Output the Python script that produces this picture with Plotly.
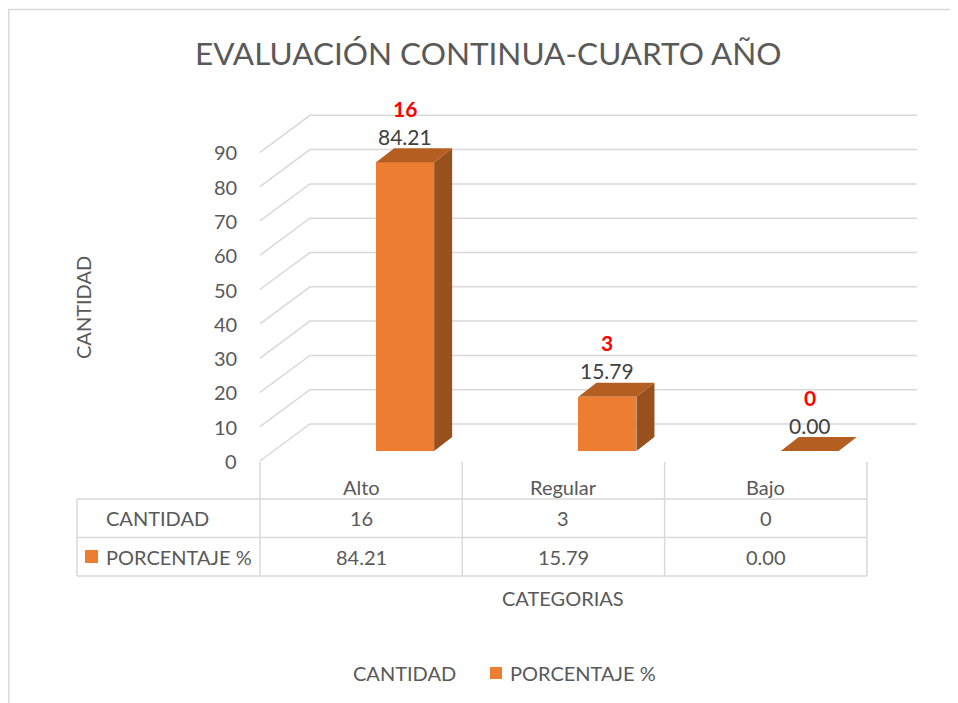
import plotly.graph_objects as go

# ---------------- data ----------------
categories = ["Alto", "Regular", "Bajo"]
cantidad = [16, 3, 0]
porcentaje = [84.21, 15.79, 0.00]
y_ticks = [0, 10, 20, 30, 40, 50, 60, 70, 80, 90]
series_names = ["CANTIDAD", "PORCENTAJE %"]
chart_title = "EVALUACIÓN CONTINUA-CUARTO AÑO"
y_title = "CANTIDAD"
x_title = "CATEGORIAS"

# ---------------- style / geometry ----------------
PAGE_W, PAGE_H = 958, 703
OFF = 8                      # default page body margin
W, H = PAGE_W - OFF, PAGE_H - OFF
FONT = "Lato"
TXT = "#595959"
GRID = "#D9D9D9"
ORANGE = "#ED7D31"
TOP_C = "#B55E22"
SIDE_C = "#98501C"

X0_PX, CAT_PX = 260.0, 202.3      # front-left floor edge (page px), px per category
Y0_PX, UNIT_PX = 461.0, 3.43      # front floor (page px), px per value unit

def dx(px):
    return px / CAT_PX

def dy(px):
    return px / UNIT_PX

WALL_DX, WALL_DY = dx(50), dy(37)
BAR_SHIFT, BAR_W = dx(44), dx(58)
BAR_BASE = dy(10)
BAR_DX, BAR_DY = dx(18), dy(14)

x_range = [-0.5 - dx(X0_PX - OFF), -0.5 + dx(PAGE_W - X0_PX)]
y_range = [-dy(PAGE_H - Y0_PX), dy(Y0_PX - OFF)]

def px_x(p):
    return (p - OFF) / W

def px_y(p):
    return 1 - (p - OFF) / H

fig = go.Figure()
shapes = []

# ---------- walls / gridlines (below the bars) ----------
n = len(categories)
for t in y_ticks:
    path = (f"M {-0.5},{t} L {-0.5 + WALL_DX},{t + WALL_DY} "
            f"L {n - 0.5 + WALL_DX},{t + WALL_DY}")
    shapes.append(dict(type="path", xref="x", yref="y", path=path, layer="below",
                       line=dict(color=GRID, width=1.5)))

# ---------- bars ----------
bx = [i + BAR_SHIFT for i in range(n)]
fig.add_trace(go.Bar(x=bx, y=porcentaje, base=[BAR_BASE] * n, width=[BAR_W] * n,
                     marker=dict(color=ORANGE, line=dict(width=0)),
                     name=series_names[1], showlegend=False))

tx, ty, sx, sy = [], [], [], []
for i, v in enumerate(porcentaje):
    xl = bx[i] - BAR_W / 2
    xr = bx[i] + BAR_W / 2
    top = BAR_BASE + v
    tx += [xl, xr, xr + BAR_DX, xl + BAR_DX, xl, None]
    ty += [top, top, top + BAR_DY, top + BAR_DY, top, None]
    if v > 0:
        sx += [xr, xr + BAR_DX, xr + BAR_DX, xr, xr, None]
        sy += [BAR_BASE, BAR_BASE + BAR_DY, top + BAR_DY, top, BAR_BASE, None]
fig.add_trace(go.Scatter(x=sx, y=sy, mode="lines", fill="toself", fillcolor=SIDE_C,
                         line=dict(width=0, color=SIDE_C), hoverinfo="skip", showlegend=False))
fig.add_trace(go.Scatter(x=tx, y=ty, mode="lines", fill="toself", fillcolor=TOP_C,
                         line=dict(width=0, color=TOP_C), hoverinfo="skip", showlegend=False))

ann = []

def text(x, y, s, size=20, color=TXT, xanchor="center", xref="paper", yref="paper", angle=0):
    ann.append(dict(x=x, y=y, xref=xref, yref=yref, text=s, showarrow=False,
                    xanchor=xanchor, yanchor="middle", textangle=angle,
                    font=dict(family=FONT, size=size, color=color)))

# data labels
for i in range(n):
    top = BAR_BASE + porcentaje[i]
    text(bx[i], top + dy(26), f"{porcentaje[i]:.2f}", 21, "#404040", xref="x", yref="y")
    text(bx[i], top + dy(54), f"<b>{cantidad[i]}</b>", 21, "#FF0000", xref="x", yref="y")

# y tick labels
for t in y_ticks:
    text(-0.5 - dx(21), t, str(t), 20, xanchor="right", xref="x", yref="y")

# titles
text(px_x(489), px_y(53), chart_title, 31.5)
text(px_x(83), px_y(308), y_title, 20, angle=-90)
text(px_x(563), px_y(598), x_title, 20)

# ---------- data table ----------
col_edges = [X0_PX + CAT_PX * k for k in range(n + 1)]
row_lines = [499, 537.5, 576]

def line(x0, y0, x1, y1):
    shapes.append(dict(type="line", xref="paper", yref="paper",
                       x0=px_x(x0), y0=px_y(y0), x1=px_x(x1), y1=px_y(y1),
                       line=dict(color=GRID, width=1.5)))

for ce in col_edges:
    line(ce, 462, ce, 576)
for r in row_lines:
    line(77, r, col_edges[-1], r)
line(77, 499, 77, 576)

for i, c in enumerate(categories):
    cx = (col_edges[i] + col_edges[i + 1]) / 2
    text(px_x(cx), px_y(487), c)
    text(px_x(cx), px_y(518), str(cantidad[i]))
    text(px_x(cx), px_y(557), f"{porcentaje[i]:.2f}")
text(px_x(104), px_y(518), series_names[0], xanchor="left")
text(px_x(104), px_y(557), series_names[1], xanchor="left")
shapes.append(dict(type="rect", xref="paper", yref="paper", x0=px_x(85), x1=px_x(98),
                   y0=px_y(550), y1=px_y(563), fillcolor=ORANGE, line=dict(width=0)))

# ---------- legend ----------
text(px_x(404), px_y(673), series_names[0])
shapes.append(dict(type="rect", xref="paper", yref="paper", x0=px_x(490), x1=px_x(502),
                   y0=px_y(667), y1=px_y(679), fillcolor=ORANGE, line=dict(width=0)))
text(px_x(508), px_y(673), series_names[1], xanchor="left")

# chart border
shapes.append(dict(type="rect", xref="paper", yref="paper", x0=px_x(8.8), y0=px_y(9.5),
                   x1=px_x(975), y1=px_y(720), line=dict(color="#D9D9D9", width=1.5),
                   layer="below"))

fig.update_layout(
    width=W, height=H, margin=dict(l=0, r=0, t=0, b=0),
    paper_bgcolor="white", plot_bgcolor="white",
    xaxis=dict(range=x_range, visible=False, fixedrange=True),
    yaxis=dict(range=y_range, visible=False, fixedrange=True),
    annotations=ann, shapes=shapes, showlegend=False, bargap=0,
)
fig.write_html("out.html")
